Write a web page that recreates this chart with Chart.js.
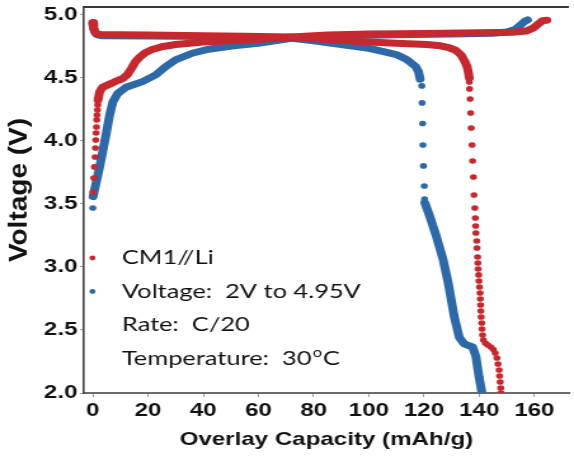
<!DOCTYPE html>
<html>
<head>
<meta charset="utf-8">
<title>CM1//Li</title>
<script src="https://cdn.jsdelivr.net/npm/chart.js@4.4.1/dist/chart.umd.min.js"></script>
<style>
  html, body { margin: 0; padding: 0; background: #fff; overflow: hidden; }
</style>
</head>
<body>
<!-- drawn at 452px wide and widened to 574px by css, like the original figure -->
<canvas id="curves" width="452" height="458" style="display:block;width:574px;height:458px"></canvas>
<script>
// [capacity mAh/g, voltage V]
// charge, red cell
const redChargeDots = [
  [0.1, 3.595], [0.36, 3.706], [0.6, 3.794], [0.83, 3.873], [0.97, 3.944], [1.08, 4.008],
  [1.2, 4.063], [1.33, 4.111], [1.43, 4.167], [1.55, 4.206], [1.69, 4.246], [1.8, 4.286]
];
const redChargeLine = [
  [1.9, 4.325], [2.5, 4.39], [3.5, 4.425], [5.5, 4.445], [8, 4.47], [10.8, 4.495],
  [12.5, 4.525], [14, 4.575], [15.5, 4.63], [17, 4.665], [19, 4.70], [21.5, 4.725],
  [25, 4.748], [30, 4.765], [40, 4.785], [50, 4.795], [60, 4.805], [72, 4.825],
  [85, 4.84], [100, 4.848], [120, 4.853], [140, 4.858], [152, 4.862], [157, 4.872],
  [159.5, 4.895], [161.5, 4.93], [163, 4.955], [164.5, 4.958]
];
// discharge, red cell
const redDischargeLine = [
  [0, 4.94], [0.3, 4.90], [0.8, 4.865], [1.5, 4.85], [3, 4.845], [10, 4.842], [20, 4.84],
  [40, 4.835], [55, 4.83], [72, 4.825], [85, 4.805], [100, 4.785], [110, 4.775],
  [121, 4.765], [126, 4.755], [129, 4.74], [131.5, 4.72], [133.5, 4.68], [134.8, 4.63],
  [135.6, 4.59], [136.1, 4.54], [136.4, 4.50]
];
const redDischargeDots = [
  [136.4, 4.468], [136.5, 4.413], [136.7, 4.333], [136.9, 4.222], [137.1, 4.103],
  [137.4, 3.968], [137.6, 3.841], [137.9, 3.714], [138.1, 3.571], [138.4, 3.468],
  [138.6, 3.389], [138.7, 3.325], [138.8, 3.270], [139.1, 3.206], [139.2, 3.151],
  [139.4, 3.079], [139.5, 3.032], [139.6, 2.984], [139.8, 2.937], [139.9, 2.889],
  [140.1, 2.841], [140.3, 2.794], [140.4, 2.746], [140.5, 2.698], [140.6, 2.651],
  [140.7, 2.603], [140.9, 2.556], [141.0, 2.508], [141.2, 2.460], [141.5, 2.421],
  [142.2, 2.397], [143.1, 2.381], [144.2, 2.365], [145.1, 2.345], [145.8, 2.317],
  [146.4, 2.278], [146.8, 2.230], [147.2, 2.183], [147.4, 2.135], [147.6, 2.087],
  [147.8, 2.040], [147.9, 2.0]
];
// charge, blue cell
const blueChargeDots = [[0, 3.468]];
const blueChargeLine = [
  [0.1, 3.558], [1.3, 3.677], [2.5, 3.796], [3.7, 3.929], [4.9, 4.061], [6.1, 4.206],
  [7.3, 4.312], [9.1, 4.378], [12.1, 4.426], [18, 4.471], [22.8, 4.524], [26.4, 4.59],
  [30, 4.643], [36, 4.696], [42, 4.728], [50.3, 4.754], [59.9, 4.775], [72, 4.815],
  [90, 4.835], [110, 4.843], [130, 4.848], [145, 4.855], [150, 4.865], [153, 4.885],
  [155, 4.92], [156.5, 4.95], [157.5, 4.96]
];
// discharge, blue cell
const blueDischargeLine = [
  [0, 4.93], [0.3, 4.89], [0.8, 4.86], [1.5, 4.843], [3, 4.835], [20, 4.832], [40, 4.828],
  [55, 4.822], [72, 4.815], [80, 4.795], [90, 4.765], [100, 4.735], [103, 4.72],
  [110, 4.685], [113, 4.655], [115, 4.625], [117, 4.59], [118, 4.55], [118.6, 4.49]
];
const blueDischargeDots = [
  [119.2, 4.437], [119.3, 4.302], [119.5, 4.139], [119.6, 3.968], [119.8, 3.802],
  [120.1, 3.643], [120.2, 3.540]
];
const blueDischargeTail = [
  [120.3, 3.51], [122.1, 3.40], [124.5, 3.24], [126.9, 3.06], [128.8, 2.87], [131.0, 2.60],
  [132.8, 2.44], [134.5, 2.39], [137.6, 2.365], [138.8, 2.29], [139.9, 2.13], [141.0, 2.0]
];

const seriesNames = ['CM1//Li', 'Voltage:  2V to 4.95V'];
const noteLines = ['Rate:  C/20', 'Temperature:  30\u00b0C'];
const xTitle = 'Overlay Capacity (mAh/g)';
const yTitle = 'Voltage (V)';

const RED = '#c5282e';
const BLUE = '#2e69a7';
const axisFont = {family: 'Liberation Sans', size: 19, weight: 'bold'};
const noteFont = '20px Lato';

const toXY = pts => pts.map(([x, y]) => ({x, y}));

function lineSet(pts, color) {
  return {
    data: toXY(pts), showLine: true, borderColor: color, borderWidth: 7,
    borderCapStyle: 'round', borderJoinStyle: 'round', pointRadius: 0, fill: false
  };
}

function dotSet(pts, color) {
  return {
    data: toXY(pts), showLine: false, pointRadius: 2.8, pointBorderWidth: 0,
    backgroundColor: color, borderColor: color
  };
}

// top edge of the frame, the y title and the text block inside the plot
const notesPlugin = {
  id: 'notes',
  afterDraw(chart) {
    const {ctx, chartArea} = chart;
    ctx.save();
    ctx.strokeStyle = '#3a3a3a';
    ctx.lineWidth = 2;
    ctx.beginPath();
    ctx.moveTo(chartArea.left, chartArea.top);
    ctx.lineTo(chartArea.right, chartArea.top);
    ctx.stroke();

    // y title, a bit taller than the plain axis font
    ctx.save();
    ctx.translate(15.5, chartArea.top + 183);
    ctx.rotate(-Math.PI / 2);
    ctx.scale(1.4, 1);
    ctx.font = 'bold 20px "Liberation Sans"';
    ctx.fillStyle = '#111';
    ctx.textAlign = 'center';
    ctx.textBaseline = 'middle';
    ctx.fillText(yTitle, 0, 0);
    ctx.restore();

    const textX = chartArea.left + 30;
    const dotX = chartArea.left + 6.8;
    const rowY = i => chartArea.top + 251 + i * 33.5;
    ctx.textBaseline = 'middle';
    ctx.textAlign = 'left';

    [RED, BLUE].forEach((c, i) => {
      ctx.fillStyle = c;
      ctx.beginPath();
      ctx.arc(dotX, rowY(i), 2.4, 0, Math.PI * 2);
      ctx.fill();
    });

    ctx.fillStyle = '#111';
    const rows = seriesNames.concat(noteLines);
    rows.forEach((txt, i) => {
      const y = rowY(i);
      const parts = txt.split('\u00b0');
      ctx.font = noteFont;
      ctx.fillText(parts[0], textX, y);
      if (parts.length > 1) {
        // degree written as a raised small "o"
        let x = textX + ctx.measureText(parts[0]).width;
        ctx.font = '13px Lato';
        ctx.fillText('o', x + 1, y - 6);
        x += ctx.measureText('o').width + 1.5;
        ctx.font = noteFont;
        ctx.fillText(parts[1], x, y);
      }
    });
    ctx.restore();
  }
};

new Chart(document.getElementById('curves'), {
  type: 'scatter',
  data: {
    datasets: [
      lineSet(redDischargeLine, RED),
      dotSet(redDischargeDots, RED),
      lineSet(redChargeLine, RED),
      dotSet(redChargeDots, RED),
      lineSet(blueDischargeLine, BLUE),
      dotSet(blueDischargeDots, BLUE),
      lineSet(blueDischargeTail, BLUE),
      lineSet(blueChargeLine, BLUE),
      dotSet(blueChargeDots, BLUE)
    ]
  },
  options: {
    responsive: false,
    animation: false,
    events: [],
    layout: {padding: {top: 7, right: 0, bottom: 0, left: 0}},
    plugins: {legend: {display: false}, tooltip: {enabled: false}},
    scales: {
      x: {
        type: 'linear',
        min: -3.25,
        max: 172.5,
        ticks: {stepSize: 20, includeBounds: false, maxRotation: 0, padding: 2, color: '#111', font: axisFont},
        grid: {drawOnChartArea: false, tickLength: 4, tickColor: '#9a9a9a'},
        border: {color: '#6c6c6c', width: 2},
        title: {display: true, text: xTitle, color: '#111', font: axisFont, padding: {top: 0, bottom: 7}},
        afterFit(scale) {
          scale.height = 65;
          scale.paddingLeft = 0;
          scale.paddingRight = 0;
        }
      },
      y: {
        type: 'linear',
        min: 2.0,
        max: 5.063,
        ticks: {
          stepSize: 0.5, includeBounds: false, padding: 2, color: '#111', font: axisFont,
          callback: v => v.toFixed(1)
        },
        grid: {drawOnChartArea: false, tickLength: 3, tickColor: '#9a9a9a'},
        border: {color: '#404040', width: 1.6},
        afterFit(scale) {
          scale.width = 66;
          scale.paddingTop = 0;
          scale.paddingBottom = 0;
        }
      }
    }
  },
  plugins: [notesPlugin]
});
</script>
</body>
</html>
